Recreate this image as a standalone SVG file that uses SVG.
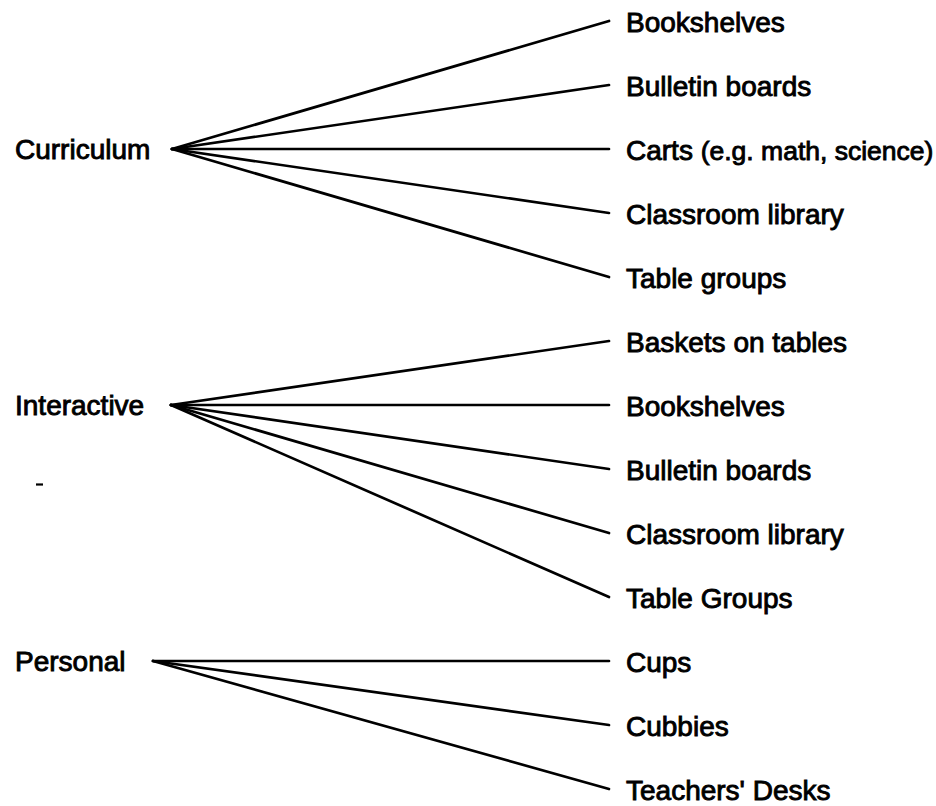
<svg xmlns="http://www.w3.org/2000/svg" width="936" height="806" viewBox="0 0 936 806">
  <style>
    .lbl { font-family: "Liberation Sans", Arial, Helvetica, sans-serif; font-size: 28px; fill: #000; stroke: #000; stroke-width: 0.9; }
    .small { font-size: 26.5px; }
    .edge { stroke: #000; stroke-width: 2.7; fill: none; stroke-linecap: round; }
  </style>
  <rect width="936" height="806" fill="#fff"/>

  <!-- connectors: each category fans out to its items -->
  <g id="connectors" class="edge">
    <!-- Curriculum -->
    <line x1="172" y1="149" x2="609" y2="21"/>
    <line x1="172" y1="149" x2="609" y2="85"/>
    <line x1="172" y1="149" x2="609" y2="149"/>
    <line x1="172" y1="149" x2="609" y2="213"/>
    <line x1="172" y1="149" x2="609" y2="277"/>
    <!-- Interactive -->
    <line x1="171" y1="405" x2="609" y2="341"/>
    <line x1="171" y1="405" x2="609" y2="405"/>
    <line x1="171" y1="405" x2="609" y2="469"/>
    <line x1="171" y1="405" x2="609" y2="533"/>
    <line x1="171" y1="405" x2="609" y2="597"/>
    <!-- Personal -->
    <line x1="153" y1="661" x2="609" y2="661"/>
    <line x1="153" y1="661" x2="609" y2="725"/>
    <line x1="153" y1="661" x2="609" y2="789"/>
  </g>

  <!-- stray mark -->
  <line x1="36" y1="484.5" x2="43" y2="484.5" stroke="#000" stroke-width="2.2"/>

  <!-- categories -->
  <g id="curriculum"><text class="lbl" x="15" y="159">Curriculum</text></g>
  <g id="interactive"><text class="lbl" x="15" y="415">Interactive</text></g>
  <g id="personal"><text class="lbl" x="15" y="671">Personal</text></g>

  <!-- Curriculum items -->
  <g id="cur-bookshelves"><text class="lbl" x="626" y="32">Bookshelves</text></g>
  <g id="cur-bulletin"><text class="lbl" x="626" y="96">Bulletin boards</text></g>
  <g id="cur-carts"><text class="lbl" x="626" y="160">Carts <tspan class="small">(e.g. math, science)</tspan></text></g>
  <g id="cur-library"><text class="lbl" x="626" y="224">Classroom library</text></g>
  <g id="cur-tables"><text class="lbl" x="626" y="288">Table groups</text></g>

  <!-- Interactive items -->
  <g id="int-baskets"><text class="lbl" x="626" y="352">Baskets on tables</text></g>
  <g id="int-bookshelves"><text class="lbl" x="626" y="416">Bookshelves</text></g>
  <g id="int-bulletin"><text class="lbl" x="626" y="480">Bulletin boards</text></g>
  <g id="int-library"><text class="lbl" x="626" y="544">Classroom library</text></g>
  <g id="int-tables"><text class="lbl" x="626" y="608">Table Groups</text></g>

  <!-- Personal items -->
  <g id="per-cups"><text class="lbl" x="626" y="672">Cups</text></g>
  <g id="per-cubbies"><text class="lbl" x="626" y="736">Cubbies</text></g>
  <g id="per-desks"><text class="lbl" x="626" y="800">Teachers' Desks</text></g>
</svg>
